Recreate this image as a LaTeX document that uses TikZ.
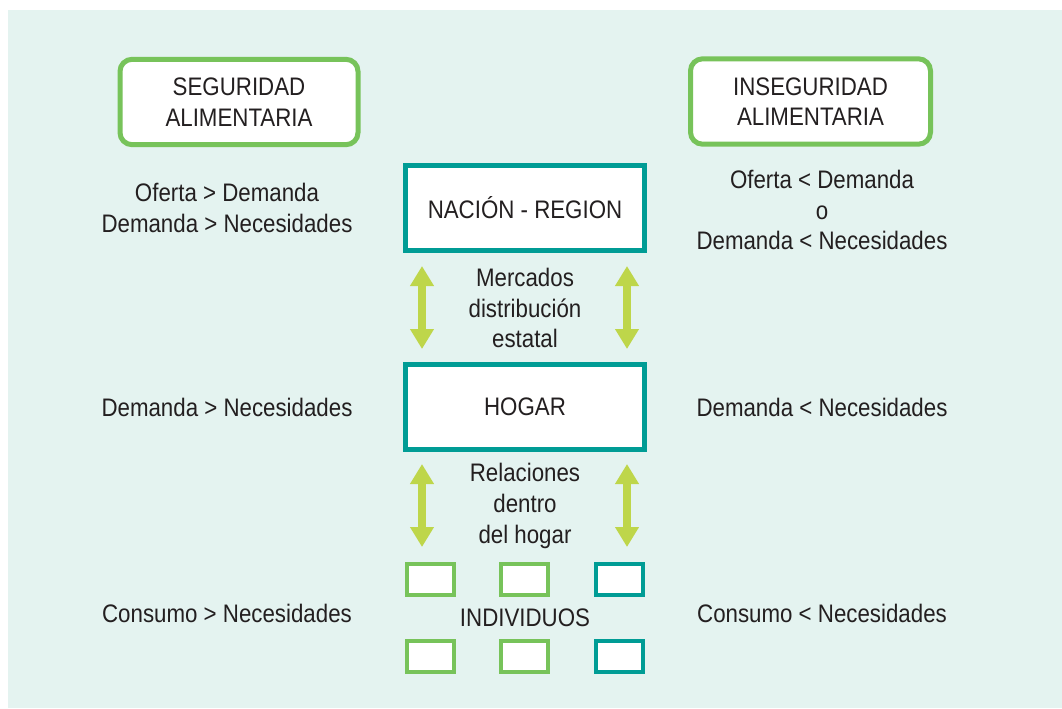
\documentclass[tikz,border=0pt]{standalone}
\usepackage{fontspec}
\setmainfont{Liberation Sans}[FakeStretch=0.88]
\usetikzlibrary{arrows.meta}
\definecolor{bgmint}{HTML}{E4F3F0}
\definecolor{lgreen}{HTML}{77C35A}
\definecolor{teal}{HTML}{009C95}
\definecolor{ygreen}{HTML}{BED64A}
\definecolor{txt}{HTML}{231F20}
\tikzset{
  lbl/.style={text=txt, font=\fontsize{19}{23}\selectfont, align=center, inner sep=0pt},
  greenbox/.style={draw=lgreen, line width=3.75pt, fill=white, rounded corners=9pt,
    minimum width=178.5pt, minimum height=64pt, lbl},
  tealbox/.style={draw=teal, line width=3.75pt, fill=white,
    minimum width=179.25pt, minimum height=63.75pt, lbl},
  smallbox/.style={line width=3pt, fill=white, minimum width=35.25pt, minimum height=23.25pt, inner sep=0pt},
  sg/.style={smallbox, draw=lgreen},
  st/.style={smallbox, draw=teal},
  dbl/.style={draw=ygreen, line width=6pt, {Triangle[width=17pt,length=15pt]}-{Triangle[width=17pt,length=15pt]}, shorten <=0pt, shorten >=0pt}
}
\begin{document}
\begin{tikzpicture}[x=0.75pt, y=-0.75pt]
\useasboundingbox (0,0) rectangle (1062,708);
\fill[bgmint] (8,10) rectangle (1062,708);

\node[greenbox] (seg) at (239,102) {SEGURIDAD\\ALIMENTARIA};
\node[greenbox, minimum width=180pt] (inseg) at (810.5,101.5) {INSEGURIDAD\\ALIMENTARIA};

\node[tealbox] (nacion) at (525,208) {NACIÓN - REGION};
\node[tealbox] (hogar) at (525,407) {HOGAR};

\node[lbl] (merc) at (525,308) {Mercados\\distribución\\estatal};
\node[lbl] (rel) at (525,506) {Relaciones\\dentro\\del hogar};

\coordinate (a1t) at (422,266);
\coordinate (a1b) at (422,349);
\coordinate (a2t) at (627,266);
\coordinate (a2b) at (627,349);
\coordinate (a3t) at (422,464);
\coordinate (a3b) at (422,547);
\coordinate (a4t) at (627,464);
\coordinate (a4b) at (627,547);
\draw[dbl] (a1t) -- (a1b);
\draw[dbl] (a2t) -- (a2b);
\draw[dbl] (a3t) -- (a3b);
\draw[dbl] (a4t) -- (a4b);

\node[sg] (i1) at (430.5,579.5) {};
\node[sg] (i2) at (524.5,579.5) {};
\node[st] (i3) at (619.5,579.5) {};
\node[lbl] (ind) at (525,618) {INDIVIDUOS};
\node[sg] (i4) at (430.5,656) {};
\node[sg] (i5) at (524.5,656) {};
\node[st] (i6) at (619.5,656) {};

\node[lbl] (l1) at (227,208) {Oferta > Demanda\\Demanda > Necesidades};
\node[lbl] (l2) at (227,407) {Demanda > Necesidades};
\node[lbl] (l3) at (227,613) {Consumo > Necesidades};

\node[lbl] (r1) at (822,210) {Oferta < Demanda\\o\\Demanda < Necesidades};
\node[lbl] (r2) at (822,407) {Demanda < Necesidades};
\node[lbl] (r3) at (822,613) {Consumo < Necesidades};
\end{tikzpicture}
\end{document}
